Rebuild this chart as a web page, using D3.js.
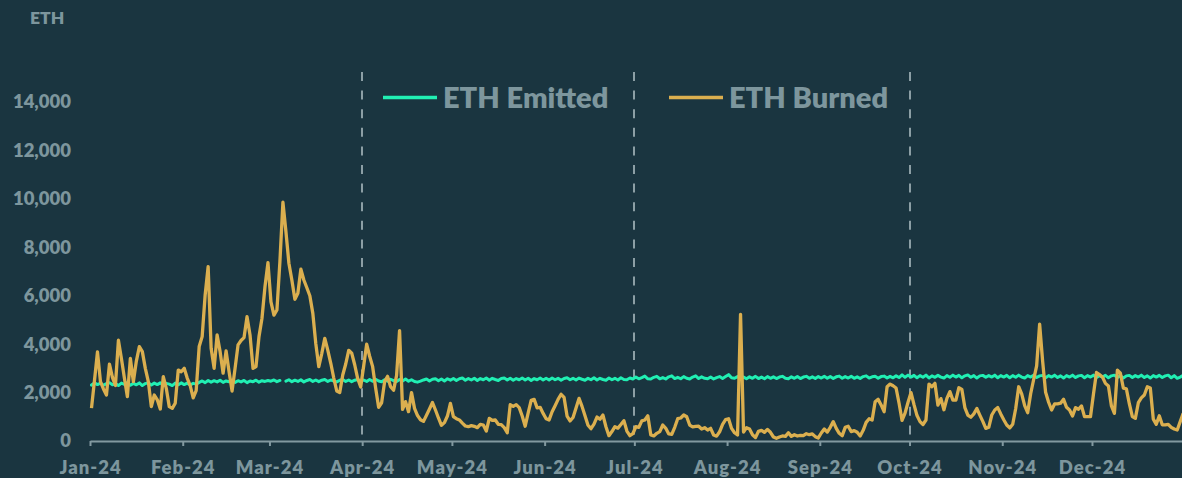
<!DOCTYPE html>
<html>
<head>
<meta charset="utf-8">
<script src="https://cdn.jsdelivr.net/npm/d3@7"></script>
<style>
  html, body { margin: 0; padding: 0; background: #1a3540; }
  svg { display: block; }
  text { font-family: Lato, "Open Sans", sans-serif; font-weight: 800; fill: #7d969d; }
</style>
</head>
<body>
<svg id="chart" width="1182" height="478"></svg>
<script>

// daily values, 2024-01-01 .. 2024-12-31
const startDay = "2024-01-01";

const monthLabels = ["Jan-24", "Feb-24", "Mar-24", "Apr-24", "May-24", "Jun-24",
                     "Jul-24", "Aug-24", "Sep-24", "Oct-24", "Nov-24", "Dec-24"];
const yTicks = [0, 2000, 4000, 6000, 8000, 10000, 12000, 14000];
const quarterLines = ["2024-04-01", "2024-07-01", "2024-10-01"];
const seriesNames = ["ETH Emitted", "ETH Burned"];

const ethEmitted = [
  // Jan
  2310,2400,2330,2390,2300,2370,2410,2320,2380,2290,2390,2340,2410,2300,2380,2320,2400,2290,2370,2410,2310,2390,2330,2400,2300,2380,2350,2290,2390,2320,2400,
  // Feb
  2330,2390,2310,2380,2350,2420,2480,2410,2500,2430,2490,2440,2510,2420,2480,2450,2510,2420,2490,2440,2500,2410,2480,2450,2510,2430,2490,2460,2500,
  // Mar (one missing day)
  2470,2520,2450,2500,null,2470,2530,2450,2510,2460,2530,2440,2500,2540,2460,2520,2450,2510,2540,2460,2520,2470,2440,2510,2540,2460,2520,2450,2510,2540,2470,
  // Apr
  2520,2460,2540,2470,2550,2480,2450,2530,2470,2550,2490,2460,2540,2480,2560,2470,2530,2460,2430,2470,2520,2560,2480,2550,2570,2490,2560,2480,2570,2510,
  // May
  2580,2500,2570,2600,2510,2580,2520,2590,2500,2580,2530,2600,2510,2590,2540,2500,2580,2600,2520,2590,2510,2580,2530,2600,2520,2590,2500,2580,2530,2600,2520,
  // Jun
  2590,2520,2600,2530,2590,2510,2580,2610,2530,2590,2520,2600,2550,2510,2590,2530,2610,2520,2590,2540,2510,2600,2530,2590,2520,2610,2540,2530,2600,2560,
  // Jul
  2640,2570,2620,2680,2570,2560,2630,2670,2570,2620,2560,2650,2690,2580,2630,2570,2660,2590,2560,2640,2690,2580,2650,2590,2570,2640,2560,2620,2660,2580,2660,
  // Aug
  2740,2610,2590,2660,2580,2640,2570,2650,2590,2670,2580,2640,2570,2660,2590,2650,2580,2640,2670,2590,2570,2650,2590,2660,2580,2640,2670,2590,2650,2580,2660,
  // Sep
  2600,2670,2590,2660,2580,2650,2680,2590,2660,2600,2670,2590,2650,2580,2660,2690,2600,2650,2670,2590,2660,2680,2600,2670,2610,2690,2620,2730,2630,2720,
  // Oct
  2640,2710,2610,2700,2630,2720,2600,2690,2630,2710,2640,2600,2700,2630,2720,2640,2710,2610,2690,2730,2630,2700,2600,2690,2710,2630,2700,2640,2720,2610,2700,
  // Nov
  2640,2710,2610,2700,2630,2720,2640,2600,2700,2640,2720,2620,2690,2710,2610,2700,2640,2720,2620,2690,2600,2700,2640,2720,2620,2690,2710,2610,2700,2640,
  // Dec
  2720,2620,2700,2640,2710,2610,2690,2720,2620,2700,2600,2690,2710,2620,2700,2640,2720,2620,2690,2600,2700,2640,2710,2620,2690,2720,2610,2700,2590,2640,2710
];

const ethBurned = [
  // Jan
  1360,2500,3680,2450,2150,1900,3170,2630,2290,4160,3410,2600,1830,3410,2450,3300,3900,3690,3000,2450,1420,1900,1700,1320,2660,2175,1420,1350,1560,2930,2860,
  // Feb
  3000,2600,2290,1780,2080,3900,4310,6030,7200,3830,3000,4380,3690,2800,3720,2860,2065,3000,3970,4150,4270,5135,4380,3000,3070,4310,5070,6370,7365,
  // Mar
  5750,5200,5410,7420,9860,8660,7340,6640,5850,6100,7100,6650,6330,6000,5270,4010,3070,3620,4240,3750,3210,2600,2065,2000,2725,3180,3745,3630,3150,2580,2230,
  // Apr
  3100,4000,3500,3070,2190,1391,1580,2450,2670,2240,2100,2700,4560,1308,1625,1211,2000,1349,1050,880,810,1060,1320,1590,1280,950,647,760,1030,1550,
  // May
  1005,920,870,740,620,590,635,605,550,690,660,413,936,850,867,690,675,550,340,1500,1430,1500,1380,1030,610,1160,1680,1720,1370,1390,1140,
  // Jun
  920,870,1210,1460,1720,1930,1800,1030,830,970,1360,1760,1430,1040,650,510,700,990,900,1070,590,220,390,590,530,680,840,410,220,300,
  // Jul
  592,565,830,867,1040,248,210,317,386,661,523,290,275,565,920,950,1074,1000,660,580,605,610,495,550,455,523,250,200,380,690,880,
  // Aug
  920,520,340,250,5230,372,550,495,260,140,400,440,360,480,360,165,110,165,207,190,344,190,260,207,235,220,300,260,290,180,125,
  // Sep
  330,495,370,565,800,520,317,220,565,610,390,430,360,207,440,770,920,867,1620,1720,1490,1210,2240,2350,2280,2190,1560,850,1150,1600,
  // Oct
  2000,1500,1050,800,680,867,2350,2240,2380,1480,1750,1290,1760,2040,1690,1690,2200,2130,1380,1070,980,1120,1340,1070,810,520,565,1074,1280,1380,1120,
  // Nov
  880,660,540,690,1340,2240,1950,1460,1170,1950,2540,3100,4830,3300,2010,1600,1280,1530,1530,1560,1720,1390,1280,1030,1380,1310,1450,1005,1005,1005,
  // Dec
  1940,2830,2740,2640,2380,2270,1450,1140,2930,2800,2180,2150,1530,1005,936,1580,1780,1900,2240,2190,900,690,1040,670,670,690,565,495,455,800,1140
];

const colors = { emitted: "#21efb3", burned: "#dbaf4f", axis: "#8299a0", grid: "#8c9fa5" };

const svg = d3.select("#chart");
const parse = d3.timeParse("%Y-%m-%d");
const day0 = parse(startDay);
const dayEnd = d3.timeYear.offset(day0, 1);

// each point sits in the middle of its day
const toPoints = arr => arr.map((v, i) => ({ date: d3.timeHour.offset(d3.timeDay.offset(day0, i), 12), v: v }));

const x = d3.scaleTime().domain([day0, dayEnd]).range([90, 1184.7]);
const y = d3.scaleLinear().domain([0, 14000]).range([441, 102]);

// "ETH" unit label
svg.append("text")
    .attr("x", 30).attr("y", 24)
    .style("font-size", "17.5px")
    .text("ETH");

// Y axis labels, no line
const yAxis = d3.axisLeft(y).tickValues(yTicks).tickFormat(d3.format(",")).tickSize(0).tickPadding(0);
const gy = svg.append("g").attr("transform", "translate(71,0)").call(yAxis);
gy.select(".domain").remove();
gy.selectAll("text").style("font-size", "18.5px").style("font-family", null).attr("fill", null);

// quarter separators
svg.append("g").selectAll("line")
    .data(quarterLines.map(parse))
    .join("line")
    .attr("x1", d => Math.round(x(d))).attr("x2", d => Math.round(x(d)))
    .attr("y1", 72).attr("y2", 441)
    .attr("stroke", colors.grid)
    .attr("stroke-width", 2)
    .attr("stroke-dasharray", "9,9.6");

// X axis
const months = d3.timeMonth.range(day0, dayEnd);
const xAxis = d3.axisBottom(x).tickValues(months)
    .tickFormat((d, i) => monthLabels[i])
    .tickSize(5).tickSizeOuter(0).tickPadding(15);
const gx = svg.append("g").attr("transform", "translate(0,441)").call(xAxis);
gx.select(".domain").attr("stroke", colors.axis).attr("stroke-width", 2);
gx.selectAll(".tick line").attr("stroke", colors.axis).attr("stroke-width", 2);
gx.selectAll("text").style("font-size", "18.5px").style("font-family", null)
    .style("letter-spacing", "1px").attr("fill", null);

// lines
const line = d3.line()
    .defined(d => d.v != null)
    .x(d => x(d.date))
    .y(d => y(d.v));

svg.append("path")
    .datum(toPoints(ethEmitted))
    .attr("fill", "none")
    .attr("stroke", colors.emitted)
    .attr("stroke-width", 3)
    .attr("stroke-linejoin", "round")
    .attr("stroke-linecap", "round")
    .attr("d", line);

svg.append("path")
    .datum(toPoints(ethBurned))
    .attr("fill", "none")
    .attr("stroke", colors.burned)
    .attr("stroke-width", 3.3)
    .attr("stroke-linejoin", "round")
    .attr("d", line);

// legend
const legend = [
    { name: seriesNames[0], color: colors.emitted, x: 383 },
    { name: seriesNames[1], color: colors.burned, x: 669 }
];
const lg = svg.append("g").selectAll("g").data(legend).join("g")
    .attr("transform", d => "translate(" + d.x + ",97.5)");
lg.append("line")
    .attr("x1", 0).attr("x2", 54)
    .attr("stroke", d => d.color)
    .attr("stroke-width", 3.5);
lg.append("text")
    .attr("x", 60).attr("y", 10.5)
    .style("font-size", "29px")
    .text(d => d.name);

</script>
</body>
</html>
